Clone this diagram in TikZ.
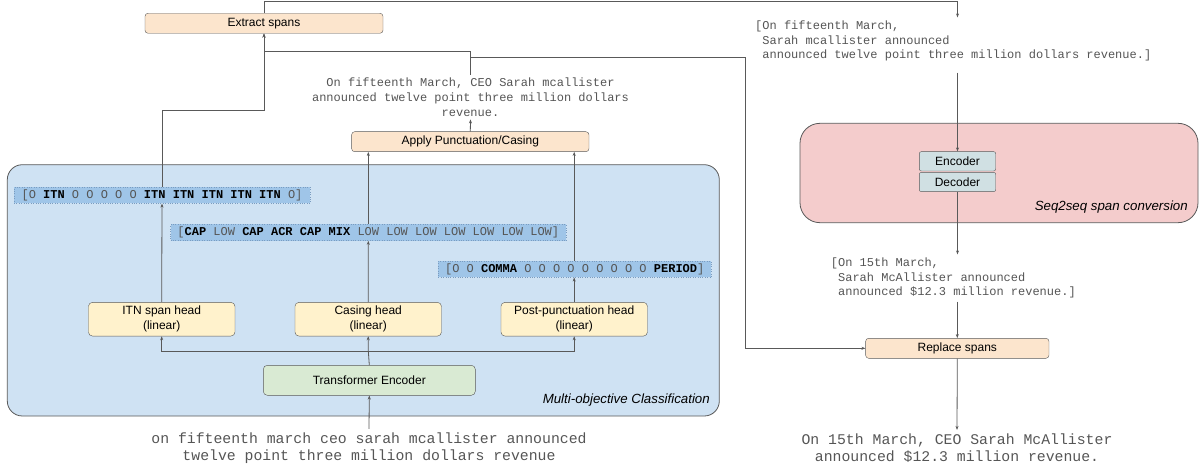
\documentclass[tikz,border=0pt]{standalone}
\usepackage{fontspec}
\setmainfont{Liberation Sans}
\setmonofont{Liberation Mono}
\usepackage{xcolor}
\usetikzlibrary{
    arrows.meta,
    calc,
    positioning
}
\definecolor{linegray}{HTML}{595959}
\definecolor{textgray}{HTML}{555555}
\definecolor{procfill}{HTML}{FCE5CD}
\definecolor{headfill}{HTML}{FFF2CC}
\definecolor{encfill}{HTML}{D9EAD3}
\definecolor{s2sfill}{HTML}{D0E0E3}
\definecolor{mocfill}{HTML}{CFE2F3}
\definecolor{pinkfill}{HTML}{F4CCCC}
\definecolor{tagfill}{HTML}{9FC5E8}
\definecolor{tagline}{HTML}{7A9CC0}
\newcommand{\tb}[1]{\textbf{\color{black}#1}}

\begin{document}
\begin{tikzpicture}[x=1pt, y=-1pt,
    >={Stealth[length=4pt,width=3pt]},
    conn/.style={draw=linegray, line width=0.8pt},
    proc/.style={draw=linegray, rounded corners=3pt, fill=procfill, inner sep=0pt,
        minimum height=20pt, font=\fontsize{12}{14}\selectfont},
    headbox/.style={draw=linegray, rounded corners=4pt, fill=headfill, inner sep=0pt,
        minimum width=146.5pt, minimum height=33.7pt, align=center,
        font=\fontsize{12}{15}\selectfont},
    s2sbox/.style={draw=linegray, rounded corners=2pt, fill=s2sfill, inner sep=0pt,
        minimum width=76.4pt, minimum height=19.3pt, font=\fontsize{12}{14}\selectfont},
    tagrow/.style={draw=tagline, dotted, fill=tagfill, inner sep=0pt,
        minimum height=16.2pt, text=textgray, font=\ttfamily\fontsize{12}{14}\selectfont},
    midtext/.style={text=textgray, inner sep=3pt, font=\ttfamily\fontsize{12}{14.8}\selectfont},
    bigtext/.style={text=textgray, inner sep=4pt, align=center,
        font=\ttfamily\fontsize{14.8}{16.7}\selectfont},
    panellabel/.style={anchor=east, inner sep=0pt, font=\itshape\fontsize{13.3}{15}\selectfont}]
    \useasboundingbox (0,0) rectangle (1202,468);

    \draw[conn, fill=mocfill, rounded corners=15pt] (7.3,164.7) rectangle (719.3,416);
    \draw[conn, fill=pinkfill, rounded corners=20pt] (800,123.3) rectangle (1198,222.7);
    \node[panellabel] (moclabel) at (710,400) {Multi-objective Classification};
    \node[panellabel] (s2slabel) at (1188,206.7) {Seq2seq span conversion};

    \node[proc, minimum width=238pt] (extract) at (264,23.3) {Extract spans};
    \node[proc, minimum width=237.3pt] (apply) at (470.3,141.7) {Apply Punctuation/Casing};
    \node[proc, minimum width=183.3pt] (replace) at (957.3,348.3) {Replace spans};

    \node[headbox] (itnhead) at (161.7,319.2) {ITN span head\\(linear)};
    \node[headbox] (casehead) at (368.2,319.2) {Casing head\\(linear)};
    \node[headbox] (punchead) at (574.2,319.2) {Post-punctuation head\\(linear)};
    \node[draw=linegray, rounded corners=4pt, fill=encfill, minimum width=212pt,
        minimum height=30pt, inner sep=0pt, font=\fontsize{12}{14}\selectfont]
        (transformer) at (369.3,380.3) {Transformer Encoder};

    \node[tagrow, minimum width=296pt] (itnrow) at (162,195.3)
        {[O \tb{ITN} O O O O O \tb{ITN} \tb{ITN} \tb{ITN} \tb{ITN} \tb{ITN} O]};
    \node[tagrow, minimum width=395.3pt] (caserow) at (368.3,232.5)
        {[\tb{CAP} LOW \tb{CAP} \tb{ACR} \tb{CAP} \tb{MIX} LOW LOW LOW LOW LOW LOW LOW]};
    \node[tagrow, minimum width=272.7pt] (punrow) at (574.7,269.2)
        {[O O \tb{COMMA} O O O O O O O O O \tb{PERIOD}]};

    \node[s2sbox] (encoder) at (957.5,161.3) {Encoder};
    \node[s2sbox] (decoder) at (957.5,182) {Decoder};

    \node[midtext, align=center] (puncttext) at (470.5,97)
        {On fifteenth March, CEO Sarah mcallister\\announced twelve point three million dollars\\revenue.};
    \node[midtext, align=left, anchor=west] (spantext) at (752,41)
        {[On fifteenth March,\\\ Sarah mcallister announced\\\ announced twelve point three million dollars revenue.]};
    \node[midtext, align=left, anchor=west] (text15) at (827.7,278)
        {[On 15th March,\\\ Sarah McAllister announced\\\ announced \$12.3 million revenue.]};
    \node[bigtext] (intext) at (369,448.3)
        {on fifteenth march ceo sarah mcallister announced\\twelve point three million dollars revenue};
    \node[bigtext] (outtext) at (957,448.3)
        {On 15th March, CEO Sarah McAllister\\announced \$12.3 million revenue.};

    \coordinate (split) at (368.3,351);
    \coordinate (itnjoin) at (264,110);
    \coordinate (puncjoin) at (470.5,51);
    \coordinate (puncbranch) at (470.5,57.3);
    \coordinate (replturn) at (745.7,348.3);
    \coordinate (topturn) at (264,1.5);

    \draw[conn]
    (intext.north) edge[->] (transformer.south)
    (transformer.north) edge (split)
    (split) edge[->] (casehead.south)
    (itnhead.north) edge[->] (itnrow.south)
    (casehead.north) edge[->] (caserow.south)
    (punchead.north) edge[->] (punchead.north |- punrow.south)
    (caserow.north) edge[->] (apply.south -| caserow.north)
    (punchead.north |- punrow.north) edge[->] (apply.south -| punchead.north)
    (apply.north) edge[->] (puncttext.south)
    ([yshift=-8pt]spantext.south -| encoder) edge[->] (encoder.north)
    (decoder.south) edge[->] (text15.north -| decoder)
    (text15.south -| replace) edge[->] (replace.north)
    (replace.south) edge[->] (outtext.north);

    \draw[conn, ->] (split) -| (itnhead.south);
    \draw[conn, ->] (split) -| (punchead.south);
    \draw[conn, ->] (itnrow.north) |- (itnjoin) -- (extract.south);
    \draw[conn, ->] (puncttext.north) -- (puncjoin) -| (extract.south);
    \draw[conn, ->] (puncbranch) -| (replturn) -- (replace.west);
    \draw[conn, ->] (extract.north) -- (topturn) -| (spantext.north -| encoder);
\end{tikzpicture}
\end{document}
